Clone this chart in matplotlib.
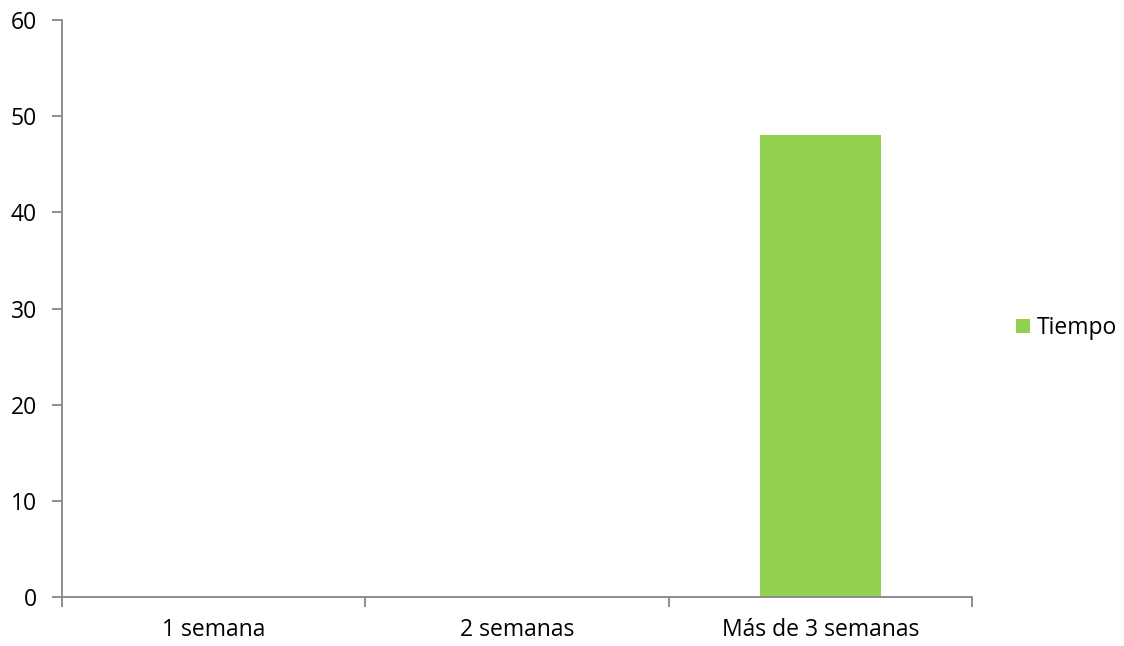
import matplotlib.pyplot as plt
from matplotlib.patches import Patch

categories = ['1 semana', '2 semanas', 'Más de 3 semanas']
tiempo = [0, 0, 48]
y_ticks = [0, 10, 20, 30, 40, 50, 60]

plt.rcParams['font.family'] = ['Open Sans', 'DejaVu Sans']

W, H = 1124, 646
fig = plt.figure(figsize=(W / 100, H / 100), dpi=100)
ax = fig.add_axes([62 / W, (H - 597) / H, (972 - 62) / W, (597 - 20) / H])

green = '#92D050'
axis_col = '#868686'
fs = 16.5

x = list(range(len(categories)))
ax.bar(x, tiempo, width=0.4, color=green, zorder=2)

ax.set_xlim(-0.5, len(categories) - 0.5)
ax.set_ylim(0, 60)
ax.set_yticks(y_ticks)
ax.set_xticks(x)
ax.set_xticklabels(categories)
ax.set_xticks([i - 0.5 for i in range(len(categories) + 1)], minor=True)

for s in ['top', 'right']:
    ax.spines[s].set_visible(False)
for s in ['left', 'bottom']:
    ax.spines[s].set_color(axis_col)
    ax.spines[s].set_linewidth(1.3)

ax.tick_params(axis='x', which='major', length=0, pad=15, labelsize=fs, colors='black')
ax.tick_params(axis='x', which='minor', length=7, width=1.3, color=axis_col, direction='out')
ax.tick_params(axis='y', length=7, width=1.3, color=axis_col, pad=11, labelsize=fs, labelcolor='black')

handles = [Patch(facecolor=green, edgecolor='none', label='Tiempo')]
fig.legend(handles=handles, loc='center left', bbox_to_anchor=(1016 / W, 1 - 328 / H),
           frameon=False, fontsize=fs, handlelength=0.62, handleheight=0.62,
           handletextpad=0.3, borderpad=0, borderaxespad=0)

fig.savefig('out.png', dpi=100)
